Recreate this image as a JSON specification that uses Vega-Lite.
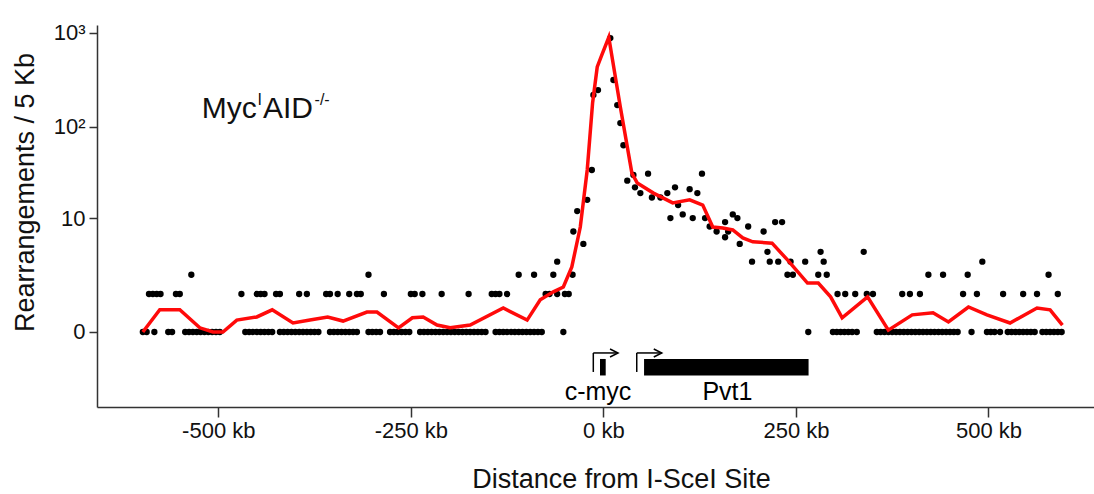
{
  "$schema": "https://vega.github.io/schema/vega-lite/v6.json",
  "width": 997,
  "height": 382,
  "autosize": {"type": "none"},
  "padding": {"left": 97, "top": 25, "right": 0, "bottom": 87},
  "background": "white",
  "config": {
    "view": {"stroke": null},
    "font": "Liberation Sans",
    "axis": {
      "domainColor": "#333333",
      "domainWidth": 1.5,
      "tickColor": "#333333",
      "tickWidth": 1.5,
      "labelColor": "#111111",
      "labelFontSize": 22,
      "titleColor": "#111111",
      "titleFontSize": 27,
      "titleFontWeight": "normal",
      "grid": false
    }
  },
  "datasets": {
    "dots": [
      {"kb": -598, "n": 0}, {"kb": -593, "n": 0}, {"kb": -583, "n": 0}, {"kb": -565, "n": 0}, {"kb": -560, "n": 0},
      {"kb": -543, "n": 0}, {"kb": -538, "n": 0}, {"kb": -533, "n": 0}, {"kb": -528, "n": 0}, {"kb": -523, "n": 0},
      {"kb": -518, "n": 0}, {"kb": -513, "n": 0}, {"kb": -508, "n": 0}, {"kb": -503, "n": 0}, {"kb": -498, "n": 0},
      {"kb": -465, "n": 0}, {"kb": -460, "n": 0}, {"kb": -455, "n": 0}, {"kb": -450, "n": 0}, {"kb": -445, "n": 0},
      {"kb": -440, "n": 0}, {"kb": -435, "n": 0}, {"kb": -430, "n": 0}, {"kb": -420, "n": 0}, {"kb": -415, "n": 0},
      {"kb": -410, "n": 0}, {"kb": -405, "n": 0}, {"kb": -400, "n": 0}, {"kb": -395, "n": 0}, {"kb": -390, "n": 0},
      {"kb": -385, "n": 0}, {"kb": -380, "n": 0}, {"kb": -375, "n": 0}, {"kb": -370, "n": 0}, {"kb": -355, "n": 0},
      {"kb": -350, "n": 0}, {"kb": -345, "n": 0}, {"kb": -340, "n": 0}, {"kb": -335, "n": 0}, {"kb": -330, "n": 0},
      {"kb": -325, "n": 0}, {"kb": -320, "n": 0}, {"kb": -305, "n": 0}, {"kb": -300, "n": 0}, {"kb": -295, "n": 0},
      {"kb": -290, "n": 0}, {"kb": -277, "n": 0}, {"kb": -272, "n": 0}, {"kb": -267, "n": 0}, {"kb": -262, "n": 0},
      {"kb": -257, "n": 0}, {"kb": -252, "n": 0}, {"kb": -238, "n": 0}, {"kb": -233, "n": 0}, {"kb": -228, "n": 0},
      {"kb": -223, "n": 0}, {"kb": -218, "n": 0}, {"kb": -213, "n": 0}, {"kb": -208, "n": 0}, {"kb": -203, "n": 0},
      {"kb": -198, "n": 0}, {"kb": -193, "n": 0}, {"kb": -188, "n": 0}, {"kb": -183, "n": 0}, {"kb": -178, "n": 0},
      {"kb": -173, "n": 0}, {"kb": -168, "n": 0}, {"kb": -163, "n": 0}, {"kb": -158, "n": 0}, {"kb": -153, "n": 0},
      {"kb": -140, "n": 0}, {"kb": -135, "n": 0}, {"kb": -130, "n": 0}, {"kb": -125, "n": 0}, {"kb": -120, "n": 0},
      {"kb": -115, "n": 0}, {"kb": -110, "n": 0}, {"kb": -105, "n": 0}, {"kb": -100, "n": 0}, {"kb": -95, "n": 0},
      {"kb": -90, "n": 0}, {"kb": -85, "n": 0}, {"kb": -80, "n": 0}, {"kb": -52, "n": 0}, {"kb": 266, "n": 0},
      {"kb": 298, "n": 0}, {"kb": 303, "n": 0}, {"kb": 308, "n": 0}, {"kb": 313, "n": 0}, {"kb": 318, "n": 0},
      {"kb": 323, "n": 0}, {"kb": 329, "n": 0}, {"kb": 355, "n": 0}, {"kb": 360, "n": 0}, {"kb": 365, "n": 0},
      {"kb": 370, "n": 0}, {"kb": 375, "n": 0}, {"kb": 380, "n": 0}, {"kb": 385, "n": 0}, {"kb": 390, "n": 0},
      {"kb": 395, "n": 0}, {"kb": 400, "n": 0}, {"kb": 405, "n": 0}, {"kb": 410, "n": 0}, {"kb": 415, "n": 0},
      {"kb": 420, "n": 0}, {"kb": 425, "n": 0}, {"kb": 430, "n": 0}, {"kb": 435, "n": 0}, {"kb": 440, "n": 0},
      {"kb": 445, "n": 0}, {"kb": 450, "n": 0}, {"kb": 455, "n": 0}, {"kb": 460, "n": 0}, {"kb": 478, "n": 0},
      {"kb": 498, "n": 0}, {"kb": 503, "n": 0}, {"kb": 508, "n": 0}, {"kb": 515, "n": 0}, {"kb": 525, "n": 0},
      {"kb": 530, "n": 0}, {"kb": 535, "n": 0}, {"kb": 540, "n": 0}, {"kb": 545, "n": 0}, {"kb": 550, "n": 0},
      {"kb": 555, "n": 0}, {"kb": 560, "n": 0}, {"kb": 570, "n": 0}, {"kb": 575, "n": 0}, {"kb": 580, "n": 0},
      {"kb": 585, "n": 0}, {"kb": 590, "n": 0}, {"kb": 595, "n": 0},
      {"kb": -590, "n": 1}, {"kb": -585, "n": 1}, {"kb": -580, "n": 1}, {"kb": -575, "n": 1}, {"kb": -555, "n": 1},
      {"kb": -550, "n": 1}, {"kb": -470, "n": 1}, {"kb": -450, "n": 1}, {"kb": -445, "n": 1}, {"kb": -440, "n": 1},
      {"kb": -425, "n": 1}, {"kb": -420, "n": 1}, {"kb": -395, "n": 1}, {"kb": -385, "n": 1}, {"kb": -360, "n": 1},
      {"kb": -355, "n": 1}, {"kb": -345, "n": 1}, {"kb": -330, "n": 1}, {"kb": -320, "n": 1}, {"kb": -315, "n": 1},
      {"kb": -285, "n": 1}, {"kb": -250, "n": 1}, {"kb": -245, "n": 1}, {"kb": -235, "n": 1}, {"kb": -210, "n": 1},
      {"kb": -175, "n": 1}, {"kb": -145, "n": 1}, {"kb": -140, "n": 1}, {"kb": -135, "n": 1}, {"kb": -125, "n": 1},
      {"kb": -75, "n": 1}, {"kb": -70, "n": 1}, {"kb": -60, "n": 1}, {"kb": -50, "n": 1}, {"kb": -45, "n": 1},
      {"kb": 304, "n": 1}, {"kb": 314, "n": 1}, {"kb": 327, "n": 1}, {"kb": 342, "n": 1}, {"kb": 350, "n": 1},
      {"kb": 388, "n": 1}, {"kb": 398, "n": 1}, {"kb": 411, "n": 1}, {"kb": 467, "n": 1}, {"kb": 485, "n": 1},
      {"kb": 519, "n": 1}, {"kb": 545, "n": 1}, {"kb": 563, "n": 1}, {"kb": 590, "n": 1},
      {"kb": -535, "n": 2}, {"kb": -305, "n": 2}, {"kb": -110, "n": 2}, {"kb": -90, "n": 2}, {"kb": -65, "n": 2},
      {"kb": -40, "n": 2}, {"kb": 239, "n": 2}, {"kb": 246, "n": 2}, {"kb": 279, "n": 2}, {"kb": 290, "n": 2},
      {"kb": 422, "n": 2}, {"kb": 441, "n": 2}, {"kb": 473, "n": 2}, {"kb": 578, "n": 2},
      {"kb": -60, "n": 3}, {"kb": 193, "n": 3}, {"kb": 216, "n": 3}, {"kb": 227, "n": 3}, {"kb": 243, "n": 3},
      {"kb": 262, "n": 3}, {"kb": 286, "n": 3}, {"kb": 492, "n": 3},
      {"kb": 213, "n": 4}, {"kb": 282, "n": 4}, {"kb": 338, "n": 4},
      {"kb": -39, "n": 7}, {"kb": -34, "n": 12}, {"kb": -26, "n": 5}, {"kb": -21, "n": 16}, {"kb": -15, "n": 34},
      {"kb": -13, "n": 218}, {"kb": -7, "n": 246}, {"kb": 9, "n": 883}, {"kb": 13, "n": 315}, {"kb": 18, "n": 170},
      {"kb": 22, "n": 109}, {"kb": 26, "n": 63}, {"kb": 31, "n": 26}, {"kb": 39, "n": 30}, {"kb": 41, "n": 22},
      {"kb": 48, "n": 19}, {"kb": 58, "n": 31}, {"kb": 63, "n": 17}, {"kb": 74, "n": 17}, {"kb": 83, "n": 19},
      {"kb": 87, "n": 10}, {"kb": 93, "n": 22}, {"kb": 97, "n": 14}, {"kb": 103, "n": 11}, {"kb": 112, "n": 21},
      {"kb": 116, "n": 10}, {"kb": 122, "n": 19}, {"kb": 128, "n": 31}, {"kb": 132, "n": 10}, {"kb": 138, "n": 8},
      {"kb": 147, "n": 7}, {"kb": 158, "n": 9}, {"kb": 158, "n": 6}, {"kb": 162, "n": 7}, {"kb": 168, "n": 11},
      {"kb": 174, "n": 10}, {"kb": 177, "n": 5}, {"kb": 188, "n": 8}, {"kb": 208, "n": 7}, {"kb": 223, "n": 9},
      {"kb": 232, "n": 9}
    ],
    "smooth": [
      {"kb": -598, "v": 0}, {"kb": -576, "v": 0.47}, {"kb": -550, "v": 0.47}, {"kb": -524, "v": 0.07},
      {"kb": -507, "v": 0}, {"kb": -494, "v": 0}, {"kb": -476, "v": 0.22}, {"kb": -450, "v": 0.29},
      {"kb": -430, "v": 0.47}, {"kb": -403, "v": 0.16}, {"kb": -381, "v": 0.22}, {"kb": -358, "v": 0.29},
      {"kb": -338, "v": 0.2}, {"kb": -307, "v": 0.41}, {"kb": -294, "v": 0.41}, {"kb": -266, "v": 0.07},
      {"kb": -248, "v": 0.27}, {"kb": -234, "v": 0.29}, {"kb": -216, "v": 0.12}, {"kb": -199, "v": 0.07},
      {"kb": -173, "v": 0.12}, {"kb": -130, "v": 0.52}, {"kb": -99, "v": 0.22}, {"kb": -82, "v": 0.78},
      {"kb": -65, "v": 1.09}, {"kb": -52, "v": 1.31}, {"kb": -41, "v": 2.56}, {"kb": -30, "v": 7.9},
      {"kb": -21, "v": 34}, {"kb": -14, "v": 180}, {"kb": -8, "v": 434}, {"kb": -2, "v": 583},
      {"kb": 7, "v": 900}, {"kb": 22, "v": 162}, {"kb": 37, "v": 31.5}, {"kb": 44, "v": 24.5},
      {"kb": 65, "v": 19}, {"kb": 90, "v": 14.8}, {"kb": 112, "v": 16}, {"kb": 129, "v": 14},
      {"kb": 142, "v": 7.9}, {"kb": 155, "v": 7.7}, {"kb": 168, "v": 7.3}, {"kb": 181, "v": 5.9},
      {"kb": 194, "v": 5.3}, {"kb": 219, "v": 5.1}, {"kb": 239, "v": 3.16}, {"kb": 265, "v": 1.51},
      {"kb": 279, "v": 1.51}, {"kb": 295, "v": 0.89}, {"kb": 310, "v": 0.27}, {"kb": 343, "v": 0.89},
      {"kb": 370, "v": 0.03}, {"kb": 401, "v": 0.34}, {"kb": 428, "v": 0.39}, {"kb": 448, "v": 0.18},
      {"kb": 474, "v": 0.55}, {"kb": 498, "v": 0.34}, {"kb": 528, "v": 0.16}, {"kb": 563, "v": 0.52},
      {"kb": 580, "v": 0.47}, {"kb": 596, "v": 0.12}
    ],
    "genes": [
      {"gene": "c-myc", "start": -4.4, "end": 3.0, "tss": -13.1, "arrowEnd": 19, "labelPos": -7},
      {"gene": "Pvt1", "start": 52.8, "end": 266.4, "tss": 43.3, "arrowEnd": 75.8, "labelPos": 161}
    ]
  },
  "layer": [
    {
      "data": {"name": "dots"},
      "mark": {"type": "circle", "size": 40, "color": "black", "opacity": 1},
      "encoding": {
        "x": {
          "field": "kb", "type": "quantitative",
          "scale": {"domain": [-657.5, 637], "nice": false, "zero": false},
          "axis": {
            "values": [-500, -250, 0, 250, 500],
            "labelExpr": "datum.value + ' kb'",
            "title": "Distance from I-SceI Site",
            "titleX": 524, "titleY": 80, "titleAlign": "center", "titleBaseline": "alphabetic",
            "tickSize": 10, "labelPadding": 3
          }
        },
        "y": {
          "field": "n", "type": "quantitative",
          "scale": {"type": "symlog", "constant": 0.65, "domain": [-3.45, 1217], "nice": false, "zero": false},
          "axis": {
            "values": [0, 10, 100, 1000],
            "labelExpr": "datum.value == 1000 ? '10³' : datum.value == 100 ? '10²' : datum.value == 10 ? '10' : '0'",
            "title": "Rearrangements / 5 Kb",
            "titleX": -64, "titleY": 167, "titleAngle": -90, "titleAlign": "center", "titleBaseline": "alphabetic",
            "tickSize": 8, "labelPadding": 4
          }
        }
      }
    },
    {
      "data": {"name": "smooth"},
      "mark": {"type": "line", "color": "#ff0a0a", "strokeWidth": 3.5},
      "encoding": {
        "x": {"field": "kb", "type": "quantitative"},
        "y": {"field": "v", "type": "quantitative"}
      }
    },
    {
      "data": {"name": "genes"},
      "mark": {"type": "rect", "color": "black"},
      "encoding": {
        "x": {"field": "start", "type": "quantitative"},
        "x2": {"field": "end"},
        "y": {"datum": -0.611, "type": "quantitative"},
        "y2": {"datum": -1.241}
      }
    },
    {
      "data": {"name": "genes"},
      "mark": {"type": "rule", "color": "black", "strokeWidth": 1.5},
      "encoding": {
        "x": {"field": "tss", "type": "quantitative"},
        "y": {"datum": -0.438, "type": "quantitative"},
        "y2": {"datum": -1.085}
      }
    },
    {
      "data": {"name": "genes"},
      "mark": {"type": "rule", "color": "black", "strokeWidth": 1.5},
      "encoding": {
        "x": {"field": "tss", "type": "quantitative"},
        "x2": {"field": "arrowEnd"},
        "y": {"datum": -0.438, "type": "quantitative"}
      }
    },
    {
      "data": {"name": "genes"},
      "mark": {"type": "point", "shape": "M-1,-0.5L0,0L-1,0.5", "filled": false, "stroke": "black", "strokeWidth": 1.5, "size": 256, "opacity": 1},
      "encoding": {
        "x": {"field": "arrowEnd", "type": "quantitative"},
        "y": {"datum": -0.438, "type": "quantitative"}
      }
    },
    {
      "data": {"name": "genes"},
      "mark": {"type": "text", "fontSize": 25, "align": "center", "baseline": "alphabetic", "color": "black"},
      "encoding": {
        "x": {"field": "labelPos", "type": "quantitative"},
        "y": {"datum": -2.8, "type": "quantitative"},
        "text": {"field": "gene"}
      }
    },
    {
      "data": {"values": [{}]},
      "mark": {"type": "text", "text": "Myc", "fontSize": 30, "align": "left", "baseline": "alphabetic", "color": "#111111"},
      "encoding": {
        "x": {"datum": -521.6, "type": "quantitative"},
        "y": {"datum": 122.7, "type": "quantitative"}
      }
    },
    {
      "data": {"values": [{}]},
      "mark": {"type": "text", "text": "I", "fontSize": 16, "align": "left", "baseline": "alphabetic", "color": "#111111"},
      "encoding": {
        "x": {"datum": -449.1, "type": "quantitative"},
        "y": {"datum": 170, "type": "quantitative"}
      }
    },
    {
      "data": {"values": [{}]},
      "mark": {"type": "text", "text": "AID", "fontSize": 30, "align": "left", "baseline": "alphabetic", "color": "#111111"},
      "encoding": {
        "x": {"datum": -442, "type": "quantitative"},
        "y": {"datum": 122.7, "type": "quantitative"}
      }
    },
    {
      "data": {"values": [{}]},
      "mark": {"type": "text", "text": "-/-", "fontSize": 16, "align": "left", "baseline": "alphabetic", "color": "#111111"},
      "encoding": {
        "x": {"datum": -375, "type": "quantitative"},
        "y": {"datum": 172, "type": "quantitative"}
      }
    }
  ]
}
